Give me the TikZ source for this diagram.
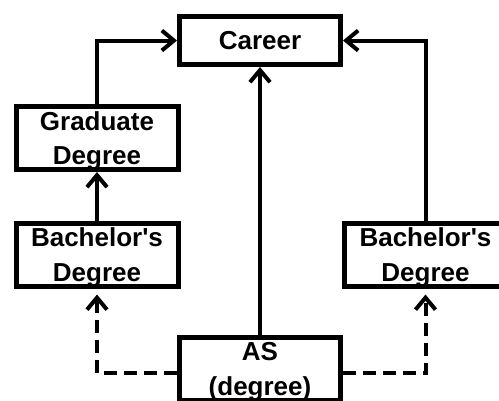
\documentclass[tikz,border=0pt]{standalone}
\usepackage{fontspec}
\setmainfont{Liberation Sans}
\usetikzlibrary{arrows.meta}
\begin{document}
\begin{tikzpicture}[x=1pt,y=-1pt,
  box/.style={draw, line width=5pt, rectangle, inner sep=0pt, align=center,
    font=\fontsize{26}{34.5}\selectfont\bfseries, text depth=0pt,
    minimum width=162pt, minimum height=63pt},
  conn/.style={line width=4pt, -{Straight Barb[length=12pt,width=20pt]}},
  dconn/.style={conn, dash pattern=on 13pt off 7pt, shorten >=6pt}]
\useasboundingbox (0,0) rectangle (499,400);
\fill[white] (0,0) rectangle (499,400);
\node[box, minimum width=161pt, minimum height=48pt] (career) at (260,40.5) {Career};
\node[box] (grad) at (97,138) {Graduate\\Degree};
\node[box] (lbach) at (97,254.5) {Bachelor\textquotesingle s\\Degree};
\node[box] (rbach) at (425.5,254.5) {Bachelor\textquotesingle s\\Degree};
\node[box, minimum width=161pt] (as) at (260,369) {AS\\(degree)};
\draw[conn] (grad.north) |- (career.west);
\draw[conn] (rbach.north) |- (career.east);
\draw[conn] (as.north) -- (career.south);
\draw[conn] (lbach.north) -- (grad.south);
\draw[dconn] ([yshift=-4pt]as.west) -| (lbach.south);
\draw[dconn] ([yshift=-4pt]as.east) -| (rbach.south);
\end{tikzpicture}
\end{document}
